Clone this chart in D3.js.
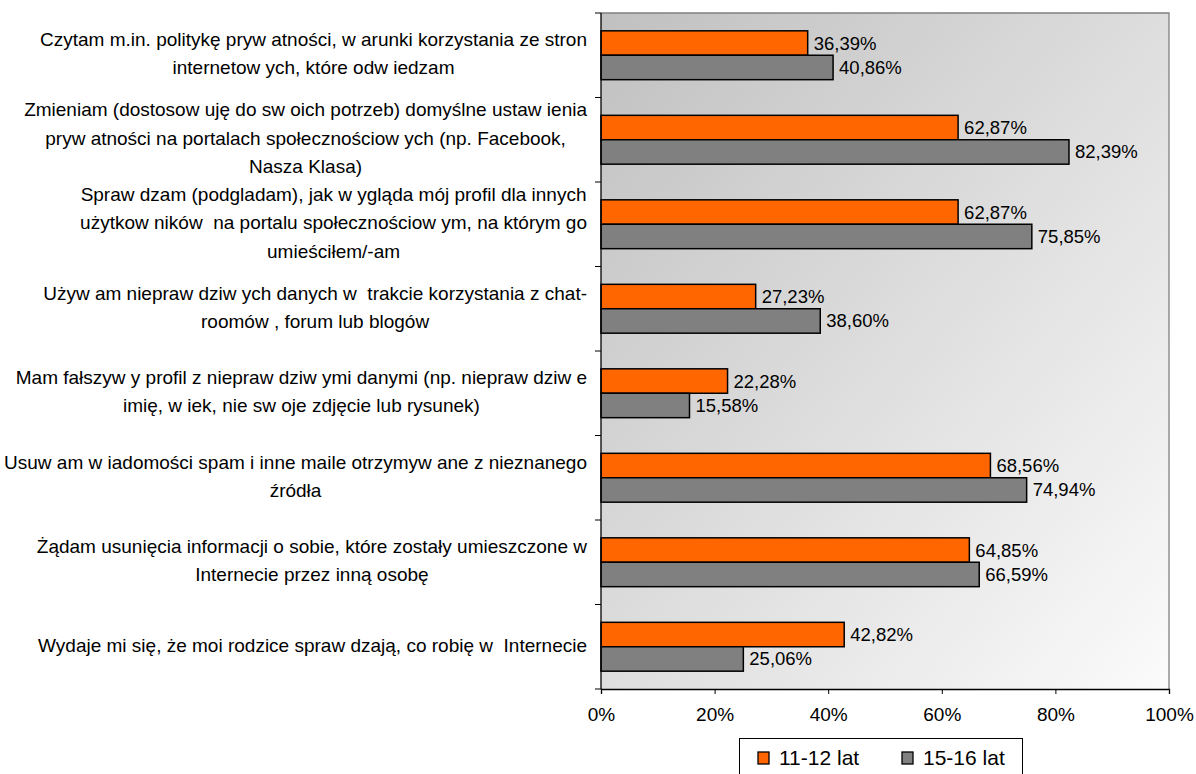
<!DOCTYPE html>
<html><head><meta charset="utf-8">
<script src="https://cdn.jsdelivr.net/npm/d3@7/dist/d3.min.js"></script>
<style>
html,body{margin:0;padding:0;background:#fff;}
text{font-family:"Liberation Sans",Arial,sans-serif;white-space:pre;}
</style></head>
<body><svg id="c" width="1196" height="774"></svg>
<script>
const categories = [
  "Czytam m.in. politykę pryw atności, w arunki korzystania ze stron\ninternetow ych, które odw iedzam",
  "Zmieniam (dostosow uję do sw oich potrzeb) domyślne ustaw ienia\npryw atności na portalach społecznościow ych (np. Facebook,\nNasza Klasa)",
  "Spraw dzam (podgladam), jak w ygląda mój profil dla innych\nużytkow ników  na portalu społecznościow ym, na którym go\numieściłem/-am",
  "Używ am niepraw dziw ych danych w  trakcie korzystania z chat-\nroomów , forum lub blogów",
  "Mam fałszyw y profil z niepraw dziw ymi danymi (np. niepraw dziw e\nimię, w iek, nie sw oje zdjęcie lub rysunek)",
  "Usuw am w iadomości spam i inne maile otrzymyw ane z nieznanego\nźródła",
  "Żądam usunięcia informacji o sobie, które zostały umieszczone w\nInternecie przez inną osobę",
  "Wydaje mi się, że moi rodzice spraw dzają, co robię w  Internecie"
];
const seriesNames = ["11-12 lat", "15-16 lat"];
const values1112 = [36.39, 62.87, 62.87, 27.23, 22.28, 68.56, 64.85, 42.82];
const values1516 = [40.86, 82.39, 75.85, 38.60, 15.58, 74.94, 66.59, 25.06];
const xTicks = [0, 20, 40, 60, 80, 100];
const colors = ["#FF6600", "#808080"];

const svg = d3.select("#c");
const L = 601, R = 1169, T = 13, B = 689;

const defs = svg.append("defs");
const g = defs.append("linearGradient").attr("id","bg").attr("x1","0").attr("y1","0").attr("x2","1").attr("y2","1");
g.append("stop").attr("offset","0").attr("stop-color","#c0c0c0");
g.append("stop").attr("offset","1").attr("stop-color","#fbfbfb");

const x = d3.scaleLinear().domain([0,100]).range([L,R]);
const y = d3.scaleBand().domain(d3.range(categories.length)).range([T,B]).paddingInner(0).paddingOuter(0);
const inner = d3.scaleBand().domain([0,1]).range([0, y.bandwidth()]).paddingOuter(0.73).paddingInner(0);

svg.append("rect").attr("x",L).attr("y",T).attr("width",R-L).attr("height",B-T).attr("fill","url(#bg)");
svg.append("path").attr("d",`M${L},${T}H${R}V${B}`).attr("fill","none").attr("stroke","#808080").attr("stroke-width",1.3);

const series = [values1112, values1516];
series.forEach((vals, si) => {
  const grp = svg.append("g");
  grp.selectAll("rect").data(vals).join("rect")
    .attr("x", x(0))
    .attr("y", (d,i) => y(i) + inner(si))
    .attr("width", d => x(d) - x(0))
    .attr("height", inner.bandwidth())
    .attr("fill", colors[si]).attr("stroke","#000").attr("stroke-width",1.5);
  grp.selectAll("text").data(vals).join("text")
    .attr("x", d => x(d) + 6)
    .attr("y", (d,i) => y(i) + inner(si) + inner.bandwidth()/2 + 6.5)
    .attr("font-size", 18.5).attr("fill","#000")
    .text(d => d.toFixed(2).replace(".", ",") + "%");
});

// axes
const xAxis = d3.axisBottom(x).tickValues(xTicks).tickFormat(d => d + "%").tickSize(5).tickPadding(14);
const ax = svg.append("g").attr("transform",`translate(0,${B})`).call(xAxis);
ax.select(".domain").attr("stroke","#000").attr("stroke-width",1.3);
ax.selectAll(".tick line").attr("stroke","#000");
ax.selectAll("text").attr("font-size",19).attr("font-family","Liberation Sans, Arial, sans-serif").attr("fill","#000");

const yb = d3.range(categories.length + 1).map(i => T + i * y.step());
const ay = svg.append("g");
ay.append("line").attr("x1",L).attr("x2",L).attr("y1",T).attr("y2",B).attr("stroke","#000").attr("stroke-width",1.3);
ay.selectAll("line.t").data(yb).join("line").attr("class","t")
  .attr("x1",L-6).attr("x2",L).attr("y1",d=>d).attr("y2",d=>d).attr("stroke","#000");

// category labels
const lineH = 28.3;
categories.forEach((c, i) => {
  const lines = c.split("\n");
  const cy = y(i) + y.bandwidth()/2 - 2;
  const grp = svg.append("g");
  const ts = lines.map((ln, k) => grp.append("text")
    .attr("font-size",19).attr("fill","#000").attr("text-anchor","middle")
    .attr("y", cy + (k - (lines.length-1)/2) * lineH + 7)
    .text(ln));
  const w = d3.max(ts, t => t.node().getComputedTextLength());
  ts.forEach(t => t.attr("x", 587 - w/2));
});

// legend
const lg = svg.append("g");
lg.append("rect").attr("x",739.5).attr("y",738.5).attr("width",283).attr("height",40).attr("fill","#fff").attr("stroke","#000").attr("stroke-width",1);
const lx = [758, 902];
seriesNames.forEach((n, i) => {
  lg.append("rect").attr("x",lx[i]).attr("y",752).attr("width",11).attr("height",12).attr("fill",colors[i]).attr("stroke","#000").attr("stroke-width",1.3);
  lg.append("text").attr("x",lx[i]+21).attr("y",765).attr("font-size",21).attr("fill","#000").text(n);
});
</script></body></html>
